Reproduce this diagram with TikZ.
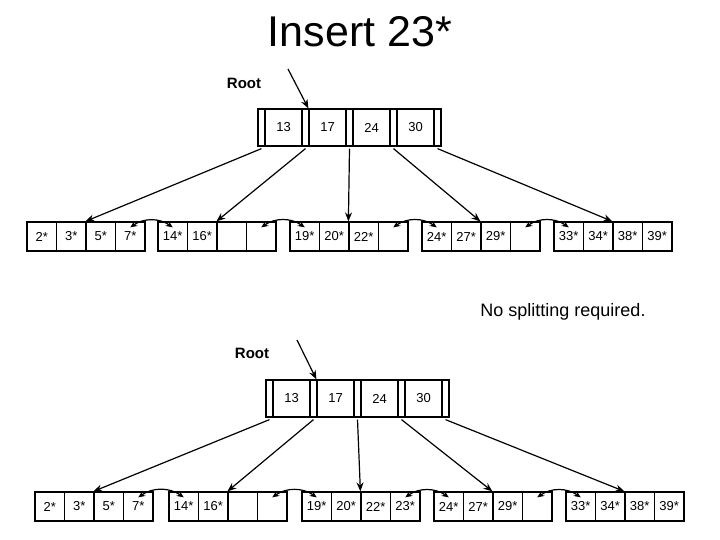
\documentclass[tikz,border=0pt]{standalone}
\usepackage{fontspec}
\setmainfont{Liberation Sans}
\usetikzlibrary{arrows.meta}

\tikzset{
  box/.style={draw, line width=1.2pt, inner sep=0pt, anchor=center},
  cell/.style={box, minimum width=29.5pt, minimum height=29pt, font=\fontsize{13}{13}\selectfont},
  key/.style={box, minimum width=37pt, minimum height=37pt, font=\fontsize{13}{13}\selectfont},
  ptr/.style={box, minimum width=7pt, minimum height=37pt},
  down/.style={line width=1.2pt, -{Stealth[length=9pt,width=7pt]}},
  sib/.style={line width=1.2pt, {Stealth[length=7pt,width=6pt]}-{Stealth[length=7pt,width=6pt]}, bend left=35},
  lbl/.style={font=\fontsize{15}{15}\selectfont\bfseries}
}

% leaf: name, left x, centre y, keys
\newcommand{\leafnode}[4]{%
  \foreach \k [count=\i] in {#4} {
    \node[cell] (#1-\i) at ({#2+(\i-0.5)*29.5},#3) {\k};
  }
}
% index node: name, left x, centre y, keys
\newcommand{\indexnode}[4]{%
  \foreach \k [count=\i] in {#4} {
    \node[ptr] (#1-p\i) at ({#2+(\i-1)*44+3.5},#3) {};
    \node[key] (#1-k\i) at ({#2+(\i-1)*44+25.5},#3) {\k};
  }
  \node[ptr] (#1-p5) at ({#2+4*44+3.5},#3) {};
}

\begin{document}
\begin{tikzpicture}[x=1pt, y=-1pt]
\useasboundingbox (0,0) rectangle (720,540);

\node[font=\fontsize{43}{43}\selectfont] (title) at (360,32) {Insert 23*};

% -------- before --------
\node[lbl] (rootA) at (244,83) {Root};
\coordinate (rA) at (288,69);
\indexnode{A}{258}{127.5}{13,17,24,30}
\draw[down] (rA) -- (A-k2.north west);

\leafnode{a1}{27}{236.5}{2*,3*,5*,7*}
\leafnode{a2}{158}{236.5}{14*,16*,{},{}}
\leafnode{a3}{290}{236.5}{19*,20*,22*,{}}
\leafnode{a4}{422}{236.5}{24*,27*,29*,{}}
\leafnode{a5}{554}{236.5}{33*,34*,38*,39*}

\foreach \j in {1,...,5} {
  \draw[down] ([yshift=-2pt]A-p\j.south) -- (a\j-3.north west);
}
\draw[sib] ([yshift=-6pt]a1-4.north) to ([yshift=-6pt]a2-1.north);
\draw[sib] ([yshift=-6pt]a2-4.north) to ([yshift=-6pt]a3-1.north);
\draw[sib] ([yshift=-6pt]a3-4.north) to ([yshift=-6pt]a4-1.north);
\draw[sib] ([yshift=-6pt]a4-4.north) to ([yshift=-6pt]a5-1.north);

\node[font=\fontsize{18}{18}\selectfont] (note) at (563,312) {No splitting required.};

% -------- after --------
\node[lbl] (rootB) at (252,353) {Root};
\coordinate (rB) at (297,340);
\indexnode{B}{266}{398.5}{13,17,24,30}
\draw[down] (rB) -- (B-k2.north west);

\leafnode{b1}{35}{506.5}{2*,3*,5*,7*}
\leafnode{b2}{169}{506.5}{14*,16*,{},{}}
\leafnode{b3}{302}{506.5}{19*,20*,22*,23*}
\leafnode{b4}{434}{506.5}{24*,27*,29*,{}}
\leafnode{b5}{566}{506.5}{33*,34*,38*,39*}

\foreach \j in {1,...,5} {
  \draw[down] ([yshift=-2pt]B-p\j.south) -- (b\j-3.north west);
}
\draw[sib] ([yshift=-6pt]b1-4.north) to ([yshift=-6pt]b2-1.north);
\draw[sib] ([yshift=-6pt]b2-4.north) to ([yshift=-6pt]b3-1.north);
\draw[sib] ([yshift=-6pt]b3-4.north) to ([yshift=-6pt]b4-1.north);
\draw[sib] ([yshift=-6pt]b4-4.north) to ([yshift=-6pt]b5-1.north);
\end{tikzpicture}
\end{document}
